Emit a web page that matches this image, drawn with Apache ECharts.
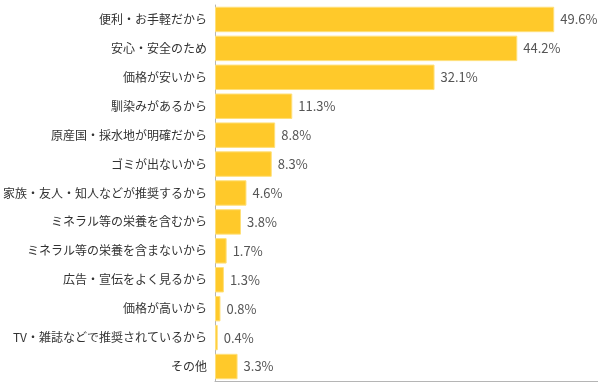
<!DOCTYPE html>
<html><head><meta charset="utf-8">
<script src="https://cdn.jsdelivr.net/npm/echarts@6/dist/echarts.min.js"></script>
<style>html,body{margin:0;padding:0;background:#fff}#c{width:598px;height:389px}</style>
</head><body><div id="c"></div>
<script>
const categories = ["便利・お手軽だから","安心・安全のため","価格が安いから","馴染みがあるから","原産国・採水地が明確だから","ゴミが出ないから","家族・友人・知人などが推奨するから","ミネラル等の栄養を含むから","ミネラル等の栄養を含まないから","広告・宣伝をよく見るから","価格が高いから","TV・雑誌などで推奨されているから","その他"];
const values = [49.6,44.2,32.1,11.3,8.8,8.3,4.6,3.8,1.7,1.3,0.8,0.4,3.3];
const chart = echarts.init(document.getElementById('c'));
chart.setOption({
  animation:false,
  grid:{left:213,right:0,top:5,bottom:8},
  xAxis:{type:'value',min:0,max:56,show:true,axisLine:{show:true,lineStyle:{color:'#b5b5b5'}},axisTick:{show:false},axisLabel:{show:false},splitLine:{show:false}},
  yAxis:{type:'category',inverse:true,data:categories,axisLine:{show:true,lineStyle:{color:'#b5b5b5'}},axisTick:{show:false},
    axisLabel:{color:'#333',fontSize:12,margin:8,fontFamily:'"Noto Sans CJK JP", sans-serif'}},
  series:[{type:'bar',data:values,barCategoryGap:'12%',
    itemStyle:{color:'#FFC92A',borderColor:'#FFE07A',borderWidth:1},
    label:{show:true,position:'right',distance:6,color:'#555',fontSize:13,fontFamily:'"Noto Sans CJK JP", sans-serif',formatter:p=>p.value.toFixed(1)+'%'}}]
});
</script></body></html>
